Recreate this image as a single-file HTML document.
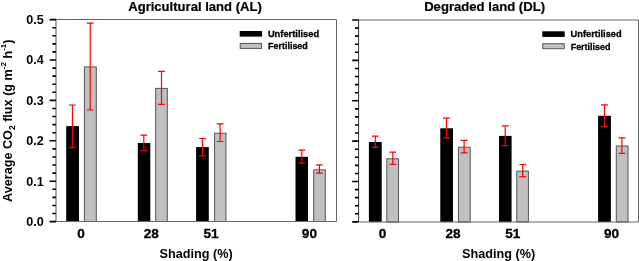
<!DOCTYPE html>
<html><head><meta charset="utf-8"><style>
html,body{margin:0;padding:0;background:#fff;width:639px;height:261px;overflow:hidden}
svg{display:block;will-change:transform}
.b{font-family:"Liberation Sans",sans-serif;font-weight:bold;fill:#000}
.c{stroke:#000;stroke-width:0.3px}
</style></head><body>
<svg width="639" height="261" viewBox="0 0 639 261">
<rect width="639" height="261" fill="#fff"/>
<rect x="66.2" y="126.1" width="12.8" height="95.4" fill="#000"/>
<rect x="84.4" y="66.9" width="11.9" height="154.6" fill="#c0c0c0" stroke="#555" stroke-width="1"/>
<rect x="137.8" y="143" width="12.5" height="78.5" fill="#000"/>
<rect x="155.7" y="88.4" width="11.6" height="133.1" fill="#c0c0c0" stroke="#555" stroke-width="1"/>
<rect x="196.1" y="147.1" width="12.7" height="74.4" fill="#000"/>
<rect x="214.6" y="133.2" width="11.4" height="88.3" fill="#c0c0c0" stroke="#555" stroke-width="1"/>
<rect x="295.5" y="156.8" width="12.5" height="64.7" fill="#000"/>
<rect x="313.7" y="169.9" width="11.6" height="51.6" fill="#c0c0c0" stroke="#555" stroke-width="1"/>
<path d="M72.4 105V147.6M69 105H75.8M69 147.6H75.8" stroke="#f00" stroke-width="1.2" fill="none"/>
<path d="M90.2 23.1V110M86.8 23.1H93.6M86.8 110H93.6" stroke="#f00" stroke-width="1.2" fill="none"/>
<path d="M143.8 135.2V150.7M140.4 135.2H147.2M140.4 150.7H147.2" stroke="#f00" stroke-width="1.2" fill="none"/>
<path d="M161.5 71.3V104.3M158.1 71.3H164.9M158.1 104.3H164.9" stroke="#f00" stroke-width="1.2" fill="none"/>
<path d="M202.5 138.5V155.8M199.1 138.5H205.9M199.1 155.8H205.9" stroke="#f00" stroke-width="1.2" fill="none"/>
<path d="M220.1 123.9V141.5M216.7 123.9H223.5M216.7 141.5H223.5" stroke="#f00" stroke-width="1.2" fill="none"/>
<path d="M301.8 150.1V163.2M298.4 150.1H305.2M298.4 163.2H305.2" stroke="#f00" stroke-width="1.2" fill="none"/>
<path d="M319.4 164.9V173.2M316 164.9H322.8M316 173.2H322.8" stroke="#f00" stroke-width="1.2" fill="none"/>
<rect x="368.9" y="142" width="12.8" height="80" fill="#000"/>
<rect x="386.8" y="158.8" width="11.7" height="63.2" fill="#c0c0c0" stroke="#555" stroke-width="1"/>
<rect x="440.3" y="128.3" width="12.7" height="93.7" fill="#000"/>
<rect x="458.4" y="147.2" width="11.8" height="74.8" fill="#c0c0c0" stroke="#555" stroke-width="1"/>
<rect x="499" y="135.9" width="12.6" height="86.1" fill="#000"/>
<rect x="516.8" y="171.1" width="11.6" height="50.9" fill="#c0c0c0" stroke="#555" stroke-width="1"/>
<rect x="598.1" y="115.8" width="12.8" height="106.2" fill="#000"/>
<rect x="616.3" y="146" width="11.7" height="76" fill="#c0c0c0" stroke="#555" stroke-width="1"/>
<path d="M375.3 136.2V147.3M371.9 136.2H378.7M371.9 147.3H378.7" stroke="#f00" stroke-width="1.2" fill="none"/>
<path d="M392.8 152.1V164.3M389.4 152.1H396.2M389.4 164.3H396.2" stroke="#f00" stroke-width="1.2" fill="none"/>
<path d="M446.5 118.1V137.8M443.1 118.1H449.9M443.1 137.8H449.9" stroke="#f00" stroke-width="1.2" fill="none"/>
<path d="M464.1 140.3V152.8M460.7 140.3H467.5M460.7 152.8H467.5" stroke="#f00" stroke-width="1.2" fill="none"/>
<path d="M505.2 125.9V145.6M501.8 125.9H508.6M501.8 145.6H508.6" stroke="#f00" stroke-width="1.2" fill="none"/>
<path d="M522.7 164.5V176.6M519.3 164.5H526.1M519.3 176.6H526.1" stroke="#f00" stroke-width="1.2" fill="none"/>
<path d="M604.5 104.9V126.7M601.1 104.9H607.9M601.1 126.7H607.9" stroke="#f00" stroke-width="1.2" fill="none"/>
<path d="M621.9 137.8V153.3M618.5 137.8H625.3M618.5 153.3H625.3" stroke="#f00" stroke-width="1.2" fill="none"/>
<path d="M56 19.5H336.5V221.5H56" stroke="#666" stroke-width="1" fill="none"/><path d="M56 19.5V221.5" stroke="#555" stroke-width="1" fill="none"/>
<path d="M358.6 20H638.5V222H358.6" stroke="#666" stroke-width="1" fill="none"/><path d="M358.6 20V222" stroke="#333" stroke-width="1" fill="none"/>
<path d="M49.6 19.6H56M52.4 27.68H56M52.4 35.76H56M52.4 43.84H56M52.4 51.92H56M49.6 60H56M52.4 68.08H56M52.4 76.16H56M52.4 84.24H56M52.4 92.32H56M49.6 100.4H56M52.4 108.48H56M52.4 116.56H56M52.4 124.64H56M52.4 132.72H56M49.6 140.8H56M52.4 148.88H56M52.4 156.96H56M52.4 165.04H56M52.4 173.12H56M49.6 181.2H56M52.4 189.28H56M52.4 197.36H56M52.4 205.44H56M52.4 213.52H56M49.6 221.6H56" stroke="#000" stroke-width="1.6"/>
<path d="M352.2 20H358.6M355 28.08H358.6M355 36.15H358.6M355 44.23H358.6M355 52.3H358.6M352.2 60.38H358.6M355 68.46H358.6M355 76.53H358.6M355 84.61H358.6M355 92.68H358.6M352.2 100.76H358.6M355 108.84H358.6M355 116.91H358.6M355 124.99H358.6M355 133.06H358.6M352.2 141.14H358.6M355 149.22H358.6M355 157.29H358.6M355 165.37H358.6M355 173.44H358.6M352.2 181.52H358.6M355 189.6H358.6M355 197.67H358.6M355 205.75H358.6M355 213.82H358.6M352.2 221.9H358.6" stroke="#000" stroke-width="1.6"/>
<rect x="239.7" y="31" width="22.4" height="5.6" fill="#000"/><rect x="240.2" y="43.4" width="21.4" height="5" fill="#c0c0c0" stroke="#555" stroke-width="1"/><text x="267.9" y="37" font-size="9.2" textLength="51.2" lengthAdjust="spacingAndGlyphs" class="b c">Unfertilised</text><text x="268.1" y="49.1" font-size="9" textLength="39.7" lengthAdjust="spacingAndGlyphs" class="b c">Fertilised</text>
<rect x="542.3" y="31.3" width="22.4" height="5.6" fill="#000"/><rect x="542.8" y="43.7" width="21.4" height="5" fill="#c0c0c0" stroke="#555" stroke-width="1"/><text x="570.5" y="37.48" font-size="9.2" textLength="51.2" lengthAdjust="spacingAndGlyphs" class="b c">Unfertilised</text><text x="570.7" y="49.58" font-size="9" textLength="39.7" lengthAdjust="spacingAndGlyphs" class="b c">Fertilised</text>
<text x="128.24" y="10.6" font-size="13.07" class="b" stroke="#000" stroke-width="0.2">Agricultural land (AL)</text>
<text x="424.16" y="10.6" font-size="13.11" class="b" stroke="#000" stroke-width="0.2">Degraded land (DL)</text>
<text x="43.7" y="24" font-size="12.6" text-anchor="end" class="b">0.5</text><text x="43.7" y="64.4" font-size="12.6" text-anchor="end" class="b">0.4</text><text x="43.7" y="104.8" font-size="12.6" text-anchor="end" class="b">0.3</text><text x="43.7" y="145.2" font-size="12.6" text-anchor="end" class="b">0.2</text><text x="43.7" y="185.6" font-size="12.6" text-anchor="end" class="b">0.1</text><text x="43.7" y="226" font-size="12.6" text-anchor="end" class="b">0.0</text>
<text x="81.05" y="238" font-size="13.6" text-anchor="middle" class="b c">0</text><text x="382.55" y="238" font-size="13.6" text-anchor="middle" class="b c">0</text><text x="151.2" y="238" font-size="13.6" text-anchor="middle" class="b c">28</text><text x="452.95" y="238" font-size="13.6" text-anchor="middle" class="b c">28</text><text x="211.05" y="238" font-size="13.6" text-anchor="middle" class="b c">51</text><text x="512.85" y="238" font-size="13.6" text-anchor="middle" class="b c">51</text><text x="309.4" y="238" font-size="13.6" text-anchor="middle" class="b c">90</text><text x="611.55" y="238" font-size="13.6" text-anchor="middle" class="b c">90</text>
<text x="159.5" y="257.9" font-size="12.67" class="b">Shading (%)</text>
<text x="462.0" y="257.9" font-size="12.67" class="b">Shading (%)</text>
<text transform="translate(12.3 202.0) rotate(-90)" font-size="12.65" class="b">Average CO<tspan font-size="8.5" dy="3">2</tspan><tspan dy="-3"> flux (g m</tspan><tspan font-size="8" dy="-6">-2</tspan><tspan dy="6"> h</tspan><tspan font-size="8" dy="-6">-1</tspan><tspan dy="6">)</tspan></text>
</svg>
</body></html>
